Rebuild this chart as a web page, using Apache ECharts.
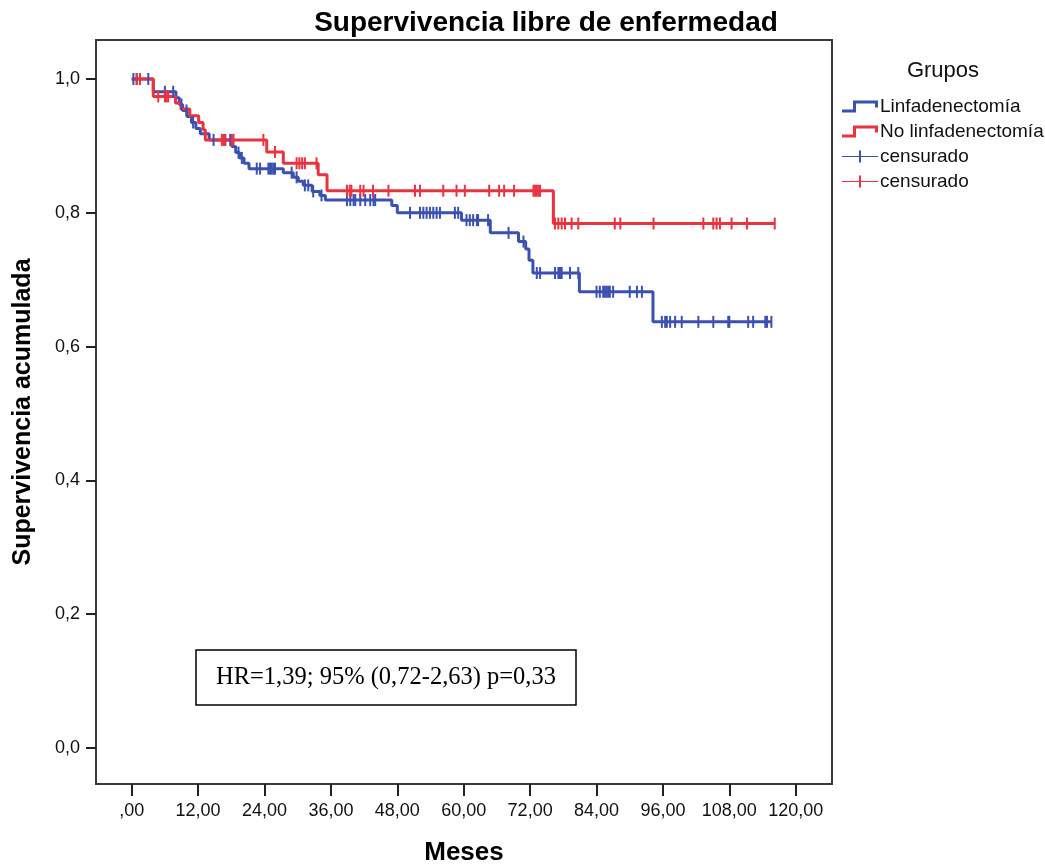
<!DOCTYPE html>
<html>
<head>
<meta charset="utf-8">
<script src="https://cdn.jsdelivr.net/npm/echarts@6/dist/echarts.min.js"></script>
<style>
  html, body { margin: 0; padding: 0; background: #ffffff; }
  #chart { width: 1045px; height: 866px; }
</style>
</head>
<body>
<div id="chart"></div>
<script>
// Axis ticks
const xTicks = [0, 12, 24, 36, 48, 60, 72, 84, 96, 108, 120];
const yTicks = [0, 0.2, 0.4, 0.6, 0.8, 1.0];

// Kaplan-Meier: Linfadenectomía (event times in months, survival after each event)
const linfEventTimes = [3.9, 8.0, 8.6, 9.2, 10.0, 10.8, 11.6, 12.4, 14.0, 18.1, 18.8, 19.5, 20.3, 21.2,
  27.4, 29.2, 30.1, 31.0, 32.6, 34.0, 35.0, 47.0, 48.0, 59.6, 64.8, 69.9, 71.2, 71.8, 72.5, 80.9, 94.2];
const linfSurvival = [0.981, 0.972, 0.962, 0.953, 0.944, 0.935, 0.926, 0.918, 0.909, 0.899, 0.890, 0.882, 0.874, 0.866,
  0.860, 0.853, 0.847, 0.841, 0.832, 0.826, 0.819, 0.811, 0.800, 0.789, 0.770, 0.757, 0.746, 0.729, 0.710, 0.682, 0.637];
const linfCensored = [0.3, 0.9, 3.0, 6.0, 7.5, 9.0, 9.9, 11.1, 14.8, 16.9, 17.8, 19.3, 19.9,
  22.6, 23.2, 24.7, 25.0, 25.3, 25.6, 25.9, 28.9, 29.8, 31.3, 31.9, 32.8, 34.3,
  38.9, 39.5, 40.1, 40.4, 41.3, 42.2, 43.1, 43.7, 44.0, 50.3, 52.1, 52.7, 53.3, 53.9, 54.5, 55.1, 55.7,
  58.4, 59.0, 60.5, 61.1, 61.7, 62.4, 62.6, 64.4, 68.1, 70.8, 73.2, 73.8, 76.5, 77.1, 77.4, 77.7, 79.2, 80.7,
  84.0, 84.6, 85.2, 85.5, 85.8, 86.1, 86.4, 87.0, 90.0, 91.3, 92.2, 95.8, 96.4, 96.7, 97.3, 98.2, 99.4,
  102.4, 105.1, 107.8, 108.0, 111.4, 112.3, 114.5, 114.8, 115.6];

// Kaplan-Meier: No linfadenectomía
const noLinfEventTimes = [3.9, 7.9, 8.9, 10.5, 12.1, 12.9, 13.3, 24.4, 27.4, 33.7, 35.3, 76.2];
const noLinfSurvival = [0.974, 0.964, 0.955, 0.945, 0.935, 0.924, 0.909, 0.891, 0.874, 0.857, 0.833, 0.784];
const noLinfCensored = [0.9, 1.5, 4.8, 6.0, 6.3, 6.6, 16.3, 16.6, 16.9, 18.1, 18.4, 23.8, 25.9,
  29.8, 30.3, 30.8, 31.3, 33.4, 38.9, 39.4, 39.7, 41.3, 41.9, 43.6, 46.4, 51.2, 52.1, 56.3, 58.7, 60.2,
  64.6, 66.4, 67.3, 69.1, 72.6, 72.9, 73.2, 73.5, 73.8, 76.5, 77.1, 77.7, 78.3, 79.5, 80.7, 87.3, 88.3,
  94.3, 103.3, 105.1, 105.7, 106.3, 108.4, 111.2, 116.2];

const BLUE = '#3b51b0';
const RED = '#ea3340';
const FONT = '"Liberation Sans", Arial, sans-serif';

function survivalAt(times, surv, t) {
  let s = 1;
  for (let i = 0; i < times.length; i++) if (times[i] <= t) s = surv[i];
  return s;
}
function stepCurve(times, surv, censored) {
  const end = Math.max(times[times.length - 1], censored[censored.length - 1]);
  const pts = [[0, 1]];
  times.forEach((t, i) => pts.push([t, surv[i]]));
  pts.push([end, surv[surv.length - 1]]);
  return pts;
}
function censorPoints(times, surv, censored) {
  return censored.map(t => [t, survivalAt(times, surv, t)]);
}

const stepIcon = 'path://M0,9 H11 V0 H36 V7 H33 V3 H14 V12 H0 Z';
const plusIcon = 'path://M0,5.5 H36 V6.5 H0 Z M17,0 H19 V12 H17 Z';

const chart = echarts.init(document.getElementById('chart'), null, { renderer: 'canvas' });

chart.setOption({
  animation: false,
  backgroundColor: '#ffffff',
  title: [
    {
      text: 'Supervivencia libre de enfermedad',
      left: 541, top: 4, textAlign: 'center',
      textStyle: { fontFamily: FONT, fontSize: 28, fontWeight: 'bold', color: '#000' }
    },
    {
      text: 'Grupos',
      left: 938, top: 55, textAlign: 'center',
      textStyle: { fontFamily: FONT, fontSize: 22, fontWeight: 'normal', color: '#111' }
    }
  ],
  legend: {
    orient: 'vertical',
    left: 837, top: 92,
    itemWidth: 36, itemHeight: 12, itemGap: 6,
    selectedMode: false,
    textStyle: { fontFamily: FONT, fontSize: 19, lineHeight: 19, color: '#111', padding: [0, 0, 0, -3] },
    formatter: name => name.startsWith('censurado') ? 'censurado' : name,
    data: [
      { name: 'Linfadenectomía', icon: stepIcon },
      { name: 'No linfadenectomía', icon: stepIcon },
      { name: 'censurado_linf', icon: plusIcon },
      { name: 'censurado_nolinf', icon: plusIcon }
    ]
  },
  grid: {
    left: 96, right: 213, top: 40, bottom: 82,
    outerBoundsMode: 'none', containLabel: false,
    show: true, borderColor: '#3a3a3a', borderWidth: 2, backgroundColor: '#ffffff'
  },
  xAxis: {
    type: 'value', min: -6.45, max: 126.55,
    name: 'Meses', nameLocation: 'middle', nameGap: 56,
    nameTextStyle: { fontFamily: FONT, fontSize: 26, fontWeight: 'bold', color: '#000' },
    axisLine: { show: false, onZero: false },
    splitLine: { show: false },
    axisTick: { show: true, inside: false, length: 12, customValues: xTicks, lineStyle: { color: '#222', width: 2 } },
    axisLabel: {
      customValues: xTicks, margin: 18,
      fontFamily: FONT, fontSize: 18, color: '#111',
      formatter: v => v === 0 ? ',00' : v.toFixed(2).replace('.', ',')
    }
  },
  yAxis: {
    type: 'value', min: -0.0538, max: 1.0583,
    name: 'Supervivencia acumulada', nameLocation: 'middle', nameGap: 60, nameRotate: 90,
    nameTextStyle: { fontFamily: FONT, fontSize: 25, fontWeight: 'bold', color: '#000' },
    axisLine: { show: false, onZero: false },
    splitLine: { show: false },
    axisTick: { show: true, inside: false, length: 10, customValues: yTicks, lineStyle: { color: '#222', width: 2 } },
    axisLabel: {
      customValues: yTicks, margin: 16,
      fontFamily: FONT, fontSize: 18, color: '#111',
      formatter: v => v.toFixed(1).replace('.', ',')
    }
  },
  series: [
    {
      name: 'Linfadenectomía', type: 'line', step: 'end', color: BLUE,
      showSymbol: false, symbol: 'none', z: 2,
      lineStyle: { color: BLUE, width: 3 },
      itemStyle: { color: BLUE },
      emphasis: { disabled: true },
      data: stepCurve(linfEventTimes, linfSurvival, linfCensored)
    },
    {
      name: 'No linfadenectomía', type: 'line', step: 'end', color: RED,
      showSymbol: false, symbol: 'none', z: 3,
      lineStyle: { color: RED, width: 3 },
      itemStyle: { color: RED },
      emphasis: { disabled: true },
      data: stepCurve(noLinfEventTimes, noLinfSurvival, noLinfCensored)
    },
    {
      name: 'censurado_linf', type: 'scatter', color: BLUE,
      symbol: 'rect', symbolSize: [2, 12], z: 4,
      itemStyle: { color: BLUE, opacity: 1 },
      emphasis: { disabled: true },
      data: censorPoints(linfEventTimes, linfSurvival, linfCensored)
    },
    {
      name: 'censurado_nolinf', type: 'scatter', color: RED,
      symbol: 'rect', symbolSize: [2, 12], z: 5,
      itemStyle: { color: RED, opacity: 1 },
      emphasis: { disabled: true },
      data: censorPoints(noLinfEventTimes, noLinfSurvival, noLinfCensored)
    }
  ],
  graphic: [
    {
      type: 'rect', z: 10,
      shape: { x: 196, y: 650, width: 380, height: 55 },
      style: { fill: '#ffffff', stroke: '#000000', lineWidth: 1.5 }
    },
    {
      type: 'text', z: 11, x: 386, y: 678,
      style: {
        text: 'HR=1,39; 95% (0,72-2,63) p=0,33',
        fontFamily: '"Liberation Serif", "Times New Roman", serif', fontSize: 24.5,
        fill: '#000', align: 'center', verticalAlign: 'middle'
      }
    }
  ]
});
</script>
</body>
</html>
